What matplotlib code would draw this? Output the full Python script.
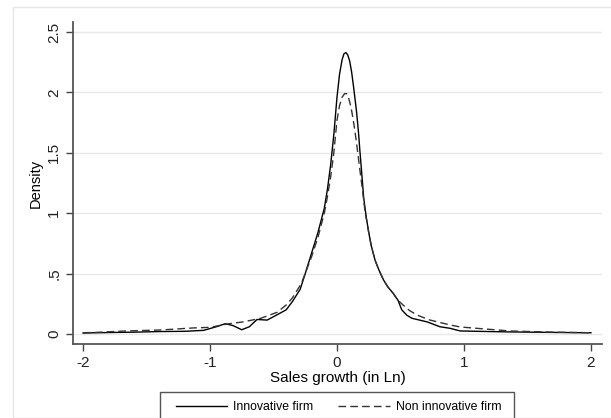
import numpy as np
import matplotlib
matplotlib.use('Agg')
import matplotlib.pyplot as plt
from matplotlib.patches import Rectangle
from matplotlib.lines import Line2D

plt.rcParams['font.family'] = ['Liberation Sans', 'DejaVu Sans']

# kernel density
innov_x = [-2.0, -1.8, -1.6, -1.4, -1.2, -1.05, -0.95, -0.88, -0.82, -0.75, -0.69, -0.63,
           -0.55, -0.47, -0.40, -0.35, -0.29, -0.25, -0.20, -0.15, -0.10, -0.075, -0.05,
           -0.025, 0.0, 0.02, 0.04, 0.055, 0.07, 0.085, 0.10, 0.115, 0.13, 0.145, 0.155,
           0.17, 0.18, 0.195, 0.21, 0.23, 0.25, 0.27, 0.30, 0.33, 0.365, 0.40, 0.44, 0.48,
           0.51, 0.55, 0.59, 0.65, 0.71, 0.81, 0.89, 0.97, 1.2, 1.36, 1.6, 1.8, 2.0]
innov_y = [0.008, 0.012, 0.015, 0.02, 0.022, 0.03, 0.06, 0.085, 0.07, 0.035, 0.06, 0.12,
           0.115, 0.16, 0.2, 0.27, 0.37, 0.5, 0.67, 0.84, 1.04, 1.2, 1.4,
           1.65, 1.96, 2.15, 2.27, 2.32, 2.33, 2.31, 2.26, 2.17, 2.05, 1.92, 1.83,
           1.66, 1.52, 1.33, 1.13, 0.97, 0.84, 0.73, 0.61, 0.53, 0.45, 0.39, 0.34, 0.28,
           0.2, 0.155, 0.13, 0.115, 0.10, 0.06, 0.047, 0.025, 0.02, 0.017, 0.014, 0.012, 0.01]

non_x = [-2.0, -1.9, -1.66, -1.39, -1.13, -1.0, -0.85, -0.74, -0.6, -0.47, -0.40, -0.35,
         -0.28, -0.20, -0.15, -0.10, -0.075, -0.05, -0.025, 0.0, 0.02, 0.04, 0.06, 0.075,
         0.09, 0.11, 0.125, 0.14, 0.16, 0.18, 0.20, 0.22, 0.25, 0.27, 0.30, 0.33, 0.365,
         0.40, 0.44, 0.48, 0.52, 0.57, 0.63, 0.73, 0.89, 0.97, 1.36, 1.7, 2.0]
non_y = [0.01, 0.013, 0.025, 0.033, 0.05, 0.055, 0.085, 0.10, 0.13, 0.18, 0.24, 0.30,
         0.42, 0.64, 0.8, 1.0, 1.14, 1.3, 1.5, 1.77, 1.89, 1.96, 1.99, 1.99,
         1.96, 1.88, 1.79, 1.69, 1.53, 1.36, 1.2, 1.02, 0.84, 0.73, 0.61, 0.53, 0.45,
         0.39, 0.34, 0.28, 0.24, 0.195, 0.157, 0.116, 0.075, 0.058, 0.025, 0.015, 0.01]

xticks = [-2, -1, 0, 1, 2]
yticks = [0, 0.5, 1, 1.5, 2, 2.5]
ylabels = ['0', '.5', '1', '1.5', '2', '2.5']

fig = plt.figure(figsize=(6.11, 4.18), dpi=100)
fig.patches.append(Rectangle((13/611, 0), 1, 1 - 7/418, transform=fig.transFigure,
                             fill=False, edgecolor='#e6e6e6', lw=1))
ax = fig.add_axes([73/611, 1 - 344/418, (602 - 73)/611, (344 - 22)/418])

ax.plot(innov_x, innov_y, color='black', lw=1.0, label='Innovative firm')
ax.plot(non_x, non_y, color='#333333', lw=1.0, dashes=(5.5, 3), label='Non innovative firm')

ax.set_xlim(-2.079, 2.087)
ax.set_ylim(-0.083, 2.583)
ax.set_xticks(xticks)
ax.set_xticklabels([str(t) for t in xticks])
ax.set_yticks(yticks)
ax.set_yticklabels(ylabels, rotation=90, va='center')
ax.tick_params(labelsize=11, length=5, width=1, color='#444444', labelcolor='#222222')
ax.grid(axis='y', color='#e8e8e8', lw=1)
ax.set_axisbelow(True)
for s in ['top', 'right']:
    ax.spines[s].set_visible(False)
for s in ['left', 'bottom']:
    ax.spines[s].set_color('#555555')
    ax.spines[s].set_linewidth(1.3)

ax.set_xlabel('Sales growth (in Ln)', fontsize=11, labelpad=1)
ax.set_ylabel('Density', fontsize=10.5, labelpad=3)

# legend box runs off the bottom of the image, as in the original
fig.patches.append(Rectangle((160/611, -0.05), 354/611, (418 - 392)/418 + 0.05,
                             transform=fig.transFigure, fill=False,
                             edgecolor='#555555', lw=1))
handles = [Line2D([], [], color='black', lw=1.0),
           Line2D([], [], color='#333333', lw=1.0, dashes=(5.5, 3))]
fig.legend(handles, ['Innovative firm', 'Non innovative firm'], loc='center',
           bbox_to_anchor=(338.5/611, 1 - 407/418), ncol=2, fontsize=8.8, frameon=False,
           handlelength=4.2, handletextpad=0.5, columnspacing=2.05, borderpad=0,
           borderaxespad=0)

fig.savefig('out.png', dpi=100)
